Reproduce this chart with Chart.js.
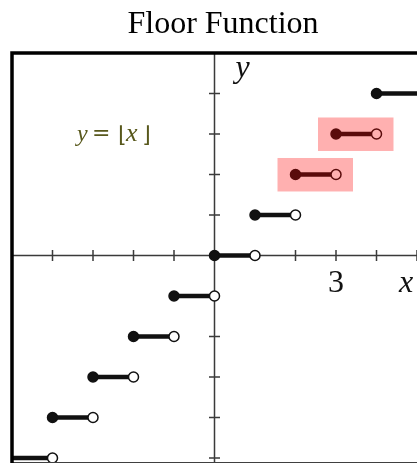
<!DOCTYPE html>
<html>
<head>
<meta charset="utf-8">
<script src="https://cdn.jsdelivr.net/npm/chart.js@4/dist/chart.umd.min.js"></script>
<style>
  html, body { margin: 0; padding: 0; background: #fff; overflow: hidden; }
</style>
</head>
<body>
<canvas id="chart1" width="417" height="463"></canvas>
<script>
// floor steps: value k on [k, k+1)
const stepStarts = [-5, -4, -3, -2, -1, 0, 1, 2, 3, 4];
const stepEnds = [-4, -3, -2, -1, 0, 1, 2, 3, 4, 5];
const stepValues = [-5, -4, -3, -2, -1, 0, 1, 2, 3, 4];
const highlightSteps = [2, 3];
const xTicks = [-5, -4, -3, -2, -1, 1, 2, 3, 4, 5];
const yTicks = [-5, -4, -3, -2, -1, 1, 2, 3, 4, 5];
const xLabelValue = 3;

const ink = "#111";

const datasets = stepStarts.map((s, i) => ({
    data: [{ x: s, y: stepValues[i] }, { x: stepEnds[i], y: stepValues[i] }],
    showLine: true,
    borderColor: ink,
    borderWidth: 4.5,
    pointRadius: [i === 0 ? 0 : 5, i === stepStarts.length - 1 ? 0 : 5],
    pointBackgroundColor: [ink, "#fff"],
    pointBorderColor: ink,
    pointBorderWidth: 1.5
}));

const floorDecor = {
    id: "floorDecor",
    beforeDatasetsDraw(chart) {
        const { ctx, scales: { x, y } } = chart;
        const ox = x.getPixelForValue(0), oy = y.getPixelForValue(0);
        const a = chart.chartArea;
        ctx.save();
        ctx.strokeStyle = "#3a3a3a";
        ctx.lineWidth = 1.5;
        ctx.beginPath();
        ctx.moveTo(a.left, oy); ctx.lineTo(a.right, oy);
        ctx.moveTo(ox, a.top); ctx.lineTo(ox, a.bottom);
        xTicks.forEach(v => {
            const px = x.getPixelForValue(v);
            ctx.moveTo(px, oy - 5.5); ctx.lineTo(px, oy + 5.5);
        });
        yTicks.forEach(v => {
            const py = y.getPixelForValue(v);
            ctx.moveTo(ox - 5.5, py); ctx.lineTo(ox + 5.5, py);
        });
        ctx.stroke();
        ctx.restore();
    },
    afterDatasetsDraw(chart) {
        const { ctx, scales: { x, y } } = chart;
        const a = chart.chartArea;
        const ox = x.getPixelForValue(0), oy = y.getPixelForValue(0);
        ctx.save();
        // highlight boxes
        ctx.fillStyle = "rgba(255, 0, 0, 0.31)";
        highlightSteps.forEach(k => {
            const i = stepValues.indexOf(k);
            const l = x.getPixelForValue(stepStarts[i]) - 18;
            const r = x.getPixelForValue(stepEnds[i]) + 17;
            const t = y.getPixelForValue(k) - 16.5;
            const b = y.getPixelForValue(k) + 17;
            ctx.fillRect(l, t, r - l, b - t);
        });

        // axis labels
        ctx.fillStyle = "#111";
        ctx.textBaseline = "alphabetic";
        ctx.font = "32px 'Liberation Serif', serif";
        ctx.textAlign = "center";
        ctx.fillText(String(xLabelValue), x.getPixelForValue(xLabelValue), oy + 37);
        ctx.font = "italic 32px 'Liberation Serif', serif";
        ctx.fillText("x", a.right - 11, oy + 37);
        ctx.textAlign = "left";
        ctx.fillText("y", ox + 21, y.getPixelForValue(5) + 24);

        // formula
        ctx.fillStyle = "#58581c";
        const fx = a.left + 65, fy = y.getPixelForValue(3) + 7;
        ctx.font = "italic 24px 'Liberation Serif', serif";
        ctx.fillText("y", fx, fy);
        ctx.font = "italic 26px 'Liberation Serif', serif";
        ctx.fillText("x", fx + 49, fy);
        ctx.font = "22px 'DejaVu Serif', serif";
        ctx.fillText("=", fx + 15, fy - 1);
        ctx.font = "22px 'DejaVu Sans', sans-serif";
        ctx.fillText("\u230A", fx + 41, fy + 1);
        ctx.fillText("\u230B", fx + 65, fy + 1);

        // frame
        ctx.strokeStyle = "#000";
        ctx.lineWidth = 3.5;
        ctx.strokeRect(a.left, a.top, a.right - a.left + 10, a.bottom - a.top + 2);

        // title
        ctx.fillStyle = "#000";
        ctx.textAlign = "center";
        ctx.font = "32px 'Liberation Serif', serif";
        ctx.fillText("Floor Function", 223, 33);
        ctx.restore();
    }
};

const ctx = document.getElementById("chart1").getContext("2d");
new Chart(ctx, {
    type: "scatter",
    data: { datasets: datasets },
    options: {
        responsive: false,
        animation: false,
        layout: { autoPadding: false, padding: { left: 12, right: 0, top: 53, bottom: 1 } },
        plugins: {
            legend: { display: false },
            tooltip: { enabled: false }
        },
        scales: {
            x: { type: "linear", min: -5, max: 5, display: false },
            y: { type: "linear", min: -5.1, max: 5, display: false }
        }
    },
    plugins: [floorDecor]
});
</script>
</body>
</html>
